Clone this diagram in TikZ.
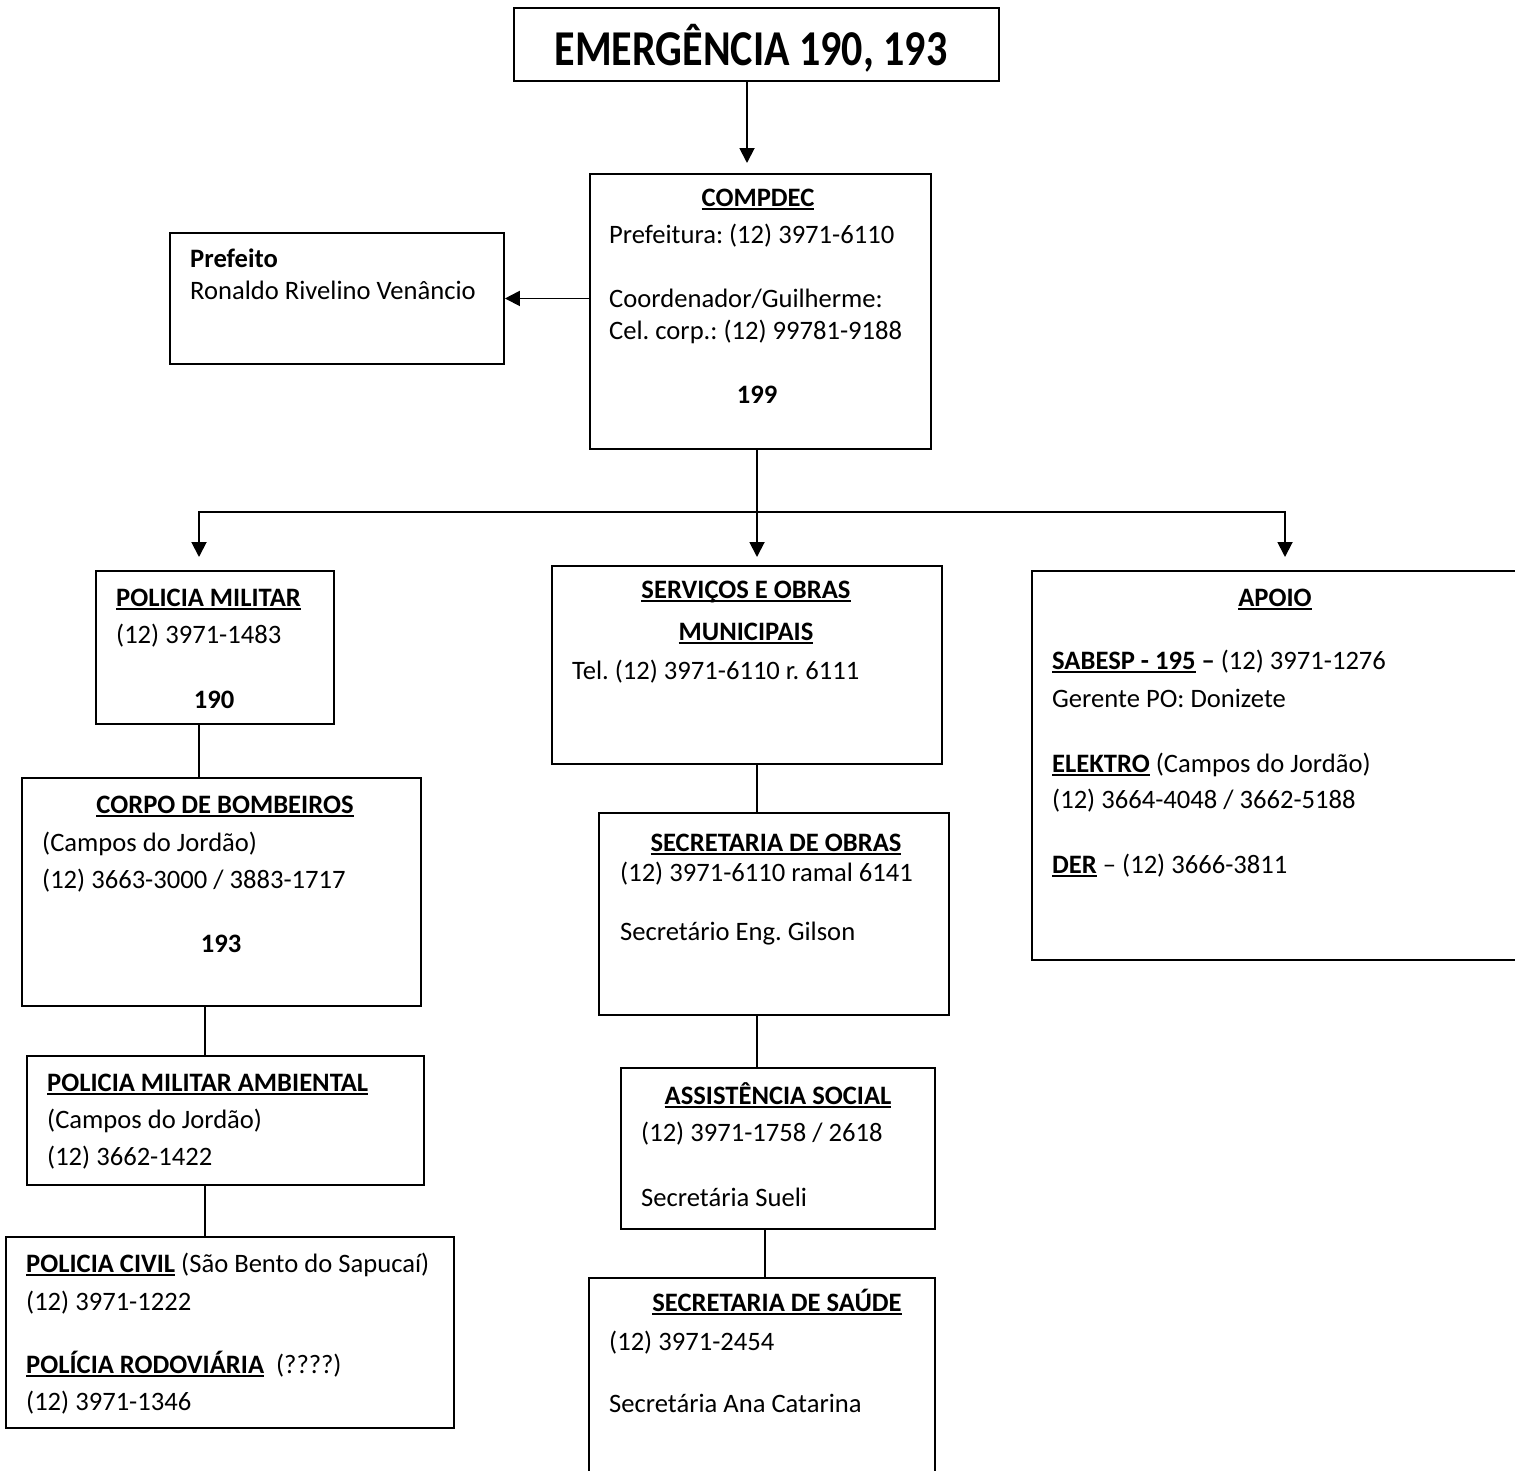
\documentclass[tikz,border=0pt]{standalone}
\usepackage{graphicx}
\usepackage{fontspec}
\setmainfont{Carlito}
\usetikzlibrary{arrows.meta}
\frenchspacing
\newcommand\fs{\fontsize{26.6}{32}\selectfont\frenchspacing}
\newcommand\ulx[1]{\setbox0\hbox{#1}\rlap{\rule[-4pt]{\wd0}{1.9pt}}\box0\relax}
\tikzset{
  box/.style={draw, line width=1.9pt, inner sep=0pt, anchor=north west},
  ln/.style={line width=1.9pt},
  arr/.style={line width=1.9pt, -{Triangle[length=15pt,width=15pt]}},
  tl/.style={anchor=base west, inner sep=0pt, font=\fs},
  tc/.style={anchor=base, inner sep=0pt, font=\fs},
}
\begin{document}
\begin{tikzpicture}[x=1pt,y=-1pt]
\useasboundingbox (0,0) rectangle (1515,1470);
\fill[white] (0,0) rectangle (1515,1470);
\clip (0,0) rectangle (1515,1470);

% boxes
\node[box, minimum width=485pt, minimum height=73pt] (emg) at (513,7) {};
\node[box, minimum width=341pt, minimum height=275pt] (cmp) at (589,173) {};
\node[box, minimum width=334pt, minimum height=131pt] (pre) at (169,232) {};
\node[box, minimum width=238pt, minimum height=153pt] (pm) at (95,570) {};
\node[box, minimum width=399pt, minimum height=228pt] (cb) at (21,777) {};
\node[box, minimum width=397pt, minimum height=129pt] (pma) at (26,1055) {};
\node[box, minimum width=448pt, minimum height=191pt] (pc) at (5,1236) {};
\node[box, minimum width=390pt, minimum height=198pt] (svc) at (551,565) {};
\node[box, minimum width=350pt, minimum height=202pt] (sob) at (598,812) {};
\node[box, minimum width=314pt, minimum height=161pt] (as) at (620,1067) {};
\node[box, minimum width=346pt, minimum height=230pt] (sau) at (588,1277) {};
\node[box, minimum width=500pt, minimum height=389pt] (apo) at (1031,570) {};

% texts
\node[anchor=base, inner sep=0pt, font=\fontsize{44}{50}\selectfont\bfseries] (emgt) at (751,65) {\scalebox{0.955}[1.14]{EMERGÊNCIA 190, 193}};

\node[tc] (cmp1) at (758,206) {\ulx{\textbf{COMPDEC}}};
\node[tl] (cmp2) at (609,243) {Prefeitura: (12) 3971-6110};
\node[tl] (cmp3) at (609,307) {Coordenador/Guilherme:};
\node[tl] (cmp4) at (609,339) {Cel. corp.: (12) 99781-9188};
\node[tc] (cmp5) at (757,403) {\textbf{199}};

\node[tl] (pre1) at (190,267) {\textbf{Prefeito}};
\node[tl] (pre2) at (190,299) {Ronaldo Rivelino Venâncio};

\node[tl] (pm1) at (116,606) {\ulx{\textbf{POLICIA MILITAR}}};
\node[tl] (pm2) at (116,643) {(12) 3971-1483};
\node[tc] (pm3) at (214,708) {\textbf{190}};

\node[tc] (cb1) at (225,813) {\ulx{\textbf{CORPO DE BOMBEIROS}}};
\node[tl] (cb2) at (42,851) {(Campos do Jordão)};
\node[tl] (cb3) at (42,888) {(12) 3663-3000 / 3883-1717};
\node[tc] (cb4) at (221,952) {\textbf{193}};

\node[tl] (pma1) at (47,1091) {\ulx{\textbf{POLICIA MILITAR AMBIENTAL}}};
\node[tl] (pma2) at (47,1128) {(Campos do Jordão)};
\node[tl] (pma3) at (47,1165) {(12) 3662-1422};

\node[tl] (pc1) at (26,1272) {\ulx{\textbf{POLICIA CIVIL}} (São Bento do Sapucaí)};
\node[tl] (pc2) at (26,1310) {(12) 3971-1222};
\node[tl] (pc3) at (26,1373) {\ulx{\textbf{POLÍCIA RODOVIÁRIA}}\ \ (????)};
\node[tl] (pc4) at (26,1410) {(12) 3971-1346};

\node[tc] (svc1) at (746,598) {\ulx{\textbf{SERVIÇOS E OBRAS}}};
\node[tc] (svc2) at (746,640) {\ulx{\textbf{MUNICIPAIS}}};
\node[tl] (svc3) at (572,679) {Tel. (12) 3971-6110 r. 6111};

\node[tc] (sob1) at (776,851) {\ulx{\textbf{SECRETARIA DE OBRAS}}};
\node[tl] (sob2) at (620,881) {(12) 3971-6110 ramal 6141};
\node[tl] (sob3) at (620,940) {Secretário Eng. Gilson};

\node[tc] (as1) at (778,1104) {\ulx{\textbf{ASSISTÊNCIA SOCIAL}}};
\node[tl] (as2) at (641,1141) {(12) 3971-1758 / 2618};
\node[tl] (as3) at (641,1206) {Secretária Sueli};

\node[tc] (sau1) at (777,1311) {\ulx{\textbf{SECRETARIA DE SAÚDE}}};
\node[tl] (sau2) at (609,1350) {(12) 3971-2454};
\node[tl] (sau3) at (609,1412) {Secretária Ana Catarina};

\node[tc] (apo1) at (1275,606) {\ulx{\textbf{APOIO}}};
\node[tl] (apo2) at (1052,669) {\ulx{\textbf{SABESP - 195}}\textbf{ –} (12) 3971-1276};
\node[tl] (apo3) at (1052,707) {Gerente PO: Donizete};
\node[tl] (apo4) at (1052,772) {\ulx{\textbf{ELEKTRO}} (Campos do Jordão)};
\node[tl] (apo5) at (1052,808) {(12) 3664-4048 / 3662-5188};
\node[tl] (apo6) at (1052,873) {\ulx{\textbf{DER}} – (12) 3666-3811};

% connectors
\coordinate (a1) at (747,163);
\draw[arr] (emg.south -| a1) -- (a1);
\draw[arr] (cmp.west |- pre.east) -- (pre.east);

\coordinate (j) at (757,512);
\coordinate (tL) at (199,557);
\coordinate (tM) at (757,557);
\coordinate (tR) at (1285,557);
\draw[arr] (cmp.south -| j) -- (tM);
\draw[arr] (j) -- (tL |- j) -- (tL);
\draw[arr] (j) -- (tR |- j) -- (tR);

\coordinate (x199) at (199,0);
\coordinate (x205) at (205,0);
\coordinate (x757) at (757,0);
\coordinate (x765) at (765,0);
\draw[ln] (pm.south -| x199) -- (cb.north -| x199);
\draw[ln] (cb.south -| x205) -- (pma.north -| x205);
\draw[ln] (pma.south -| x205) -- (pc.north -| x205);
\draw[ln] (svc.south -| x757) -- (sob.north -| x757);
\draw[ln] (sob.south -| x757) -- (as.north -| x757);
\draw[ln] (as.south -| x765) -- (sau.north -| x765);
\end{tikzpicture}
\end{document}
